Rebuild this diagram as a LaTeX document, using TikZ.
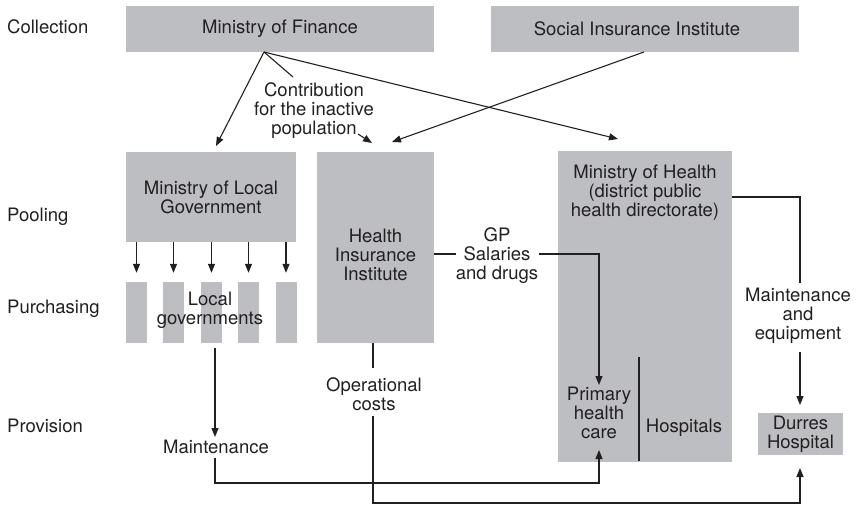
\documentclass[tikz,border=0pt]{standalone}
\usepackage{fontspec}
\setmainfont{TeX Gyre Heros}
\usetikzlibrary{arrows.meta}
\definecolor{boxgray}{RGB}{189,190,194}
\definecolor{ink}{RGB}{35,31,32}
\begin{document}
\begin{tikzpicture}[x=1pt,y=-1pt,
  every node/.style={font=\fontsize{18.5}{19}\selectfont, text=ink, inner sep=0pt, align=center},
  box/.style={fill=boxgray, draw=none, rectangle},
  conn/.style={draw=ink, line width=1.1pt},
  arr/.style={conn, -{Triangle[length=9pt,width=7pt]}}]
\useasboundingbox (0,0) rectangle (857,506);

% stage labels
\node[anchor=west] (lcol)  at (7,27)  {Collection};
\node[anchor=west] (lpool) at (7,217) {Pooling};
\node[anchor=west] (lpur)  at (7,309) {Purchasing};
\node[anchor=west] (lprov) at (7,426) {Provision};

% boxes
\node[box, minimum width=308pt, minimum height=46pt] (mof) at (280,29) {Ministry of Finance};
\node[box, minimum width=308pt, minimum height=46pt] (sii) at (645,29) {};
\node (siit) at (637,29) {Social Insurance Institute};
\node[box, minimum width=170pt, minimum height=90pt] (mlg) at (211,197) {Ministry of Local\\Government};
\node[box, minimum width=117pt, minimum height=191pt] (hii) at (375.5,247.5) {};
\node (hiit) at (375.5,255) {Health\\Insurance\\Institute};
\node[box, minimum width=174pt, minimum height=311pt] (moh) at (645,306.5) {};
\node (moht) at (645,193) {Ministry of Health\\(district public\\health directorate)};
\node (phc) at (599,413) {Primary\\health\\care};
\node (hosp) at (684,428) {Hospitals};
\node[box, minimum width=85pt, minimum height=42pt] (dur) at (800.5,434) {Durres\\Hospital};

% local government strips
\node[box, minimum width=21pt, minimum height=61pt] (lg1) at (136.5,312.5) {};
\node[box, minimum width=21pt, minimum height=61pt] (lg2) at (173.5,312.5) {};
\node[box, minimum width=21pt, minimum height=61pt] (lg3) at (211.5,312.5) {};
\node[box, minimum width=21pt, minimum height=61pt] (lg4) at (248.5,312.5) {};
\node[box, minimum width=21pt, minimum height=61pt] (lg5) at (286,312.5) {};
\node (lgt) at (210,310) {Local\\governments};

% labels
\node (contrib) at (314,111) {Contribution\\for the inactive\\population};
\node (gp) at (497,256) {GP\\Salaries\\and drugs};
\node (opc) at (374,394) {Operational\\costs};
\node (maint) at (216,447) {Maintenance};
\node (meq) at (798,316) {Maintenance\\and\\equipment};

% hospitals divider
\draw[conn] (639,357) -- (639,461);

% coordinates
\coordinate (mofo) at (264,52);
\coordinate (tmlg) at (216,146);
\coordinate (cA) at (293,77);
\coordinate (cB) at (358,134);
\coordinate (th1) at (372,143);
\coordinate (tmoh) at (618,139);
\coordinate (siio) at (644,52);
\coordinate (th2) at (392,142);

\draw[arr] (mofo) -- (tmlg);
\draw[conn] (mofo) -- (cA);
\draw[arr] (cB) -- (th1);
\draw[arr] (mofo) -- (tmoh);
\draw[arr] (siio) -- (th2);

% MLG to local governments
\foreach \i in {1,...,5}
  \draw[arr] (mlg.south -| lg\i) -- ([yshift=9pt]lg\i.north);

% maintenance
\coordinate (m0) at (215,348);
\coordinate (m1) at (215,437);
\coordinate (m2) at (215,458);
\coordinate (m3) at (599,483);
\coordinate (tphc1) at (599,450);
\draw[arr] (m0) -- (m1);
\draw[arr] (m2) |- (m3) -- (tphc1);

% operational costs
\coordinate (o1) at (373,368);
\coordinate (o2) at (373,416);
\coordinate (o3) at (800,503);
\coordinate (tdur1) at (800,468);
\draw[conn] (hii.south -| o1) -- (o1);
\draw[arr] (o2) |- (o3) -- (tdur1);

% GP salaries
\coordinate (gL) at (456,254);
\coordinate (gR) at (539,254);
\coordinate (tphc2) at (599,385);
\draw[conn] (hii.east |- gL) -- (gL);
\draw[arr] (gR) -| (tphc2);

% MoH maintenance and equipment
\coordinate (h1) at (732,197);
\coordinate (h2) at (800,283);
\coordinate (h3) at (800,352);
\coordinate (tdur2) at (800,405);
\draw[conn] (h1) -| (h2);
\draw[arr] (h3) -- (tdur2);
\end{tikzpicture}
\end{document}
